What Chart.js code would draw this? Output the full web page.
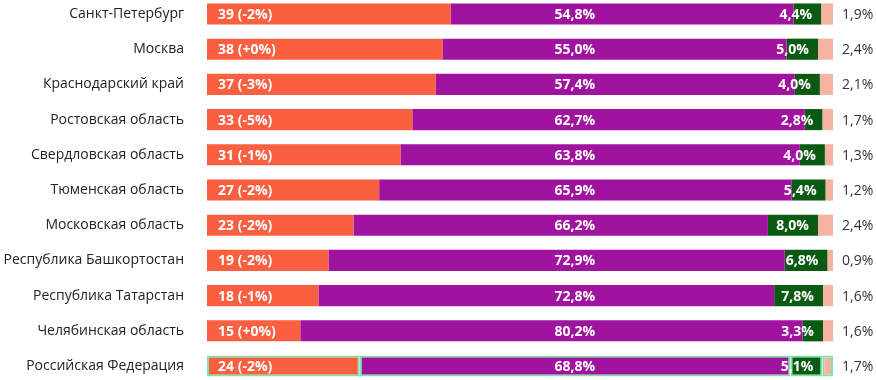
<!DOCTYPE html>
<html lang="ru">
<head>
  <meta charset="UTF-8">
  <title>Регионы</title>
  <script src="https://cdn.jsdelivr.net/npm/chart.js"></script>
  <style>
    body { margin: 0; background: #fff; }
    #wrap { width: 876px; height: 380px; }
  </style>
</head>
<body>
  <div id="wrap"><canvas id="regionChart" width="876" height="380"></canvas></div>

  <script>
    const regions = [
      'Санкт-Петербург', 'Москва', 'Краснодарский край', 'Ростовская область',
      'Свердловская область', 'Тюменская область', 'Московская область',
      'Республика Башкортостан', 'Республика Татарстан', 'Челябинская область',
      'Российская Федерация'
    ];
    const counts = [39, 38, 37, 33, 31, 27, 23, 19, 18, 15, 24];
    const countChange = ['-2%', '+0%', '-3%', '-5%', '-1%', '-2%', '-2%', '-2%', '-1%', '+0%', '-2%'];
    const orangeShare = [38.9, 37.6, 36.5, 32.8, 30.9, 27.5, 23.4, 19.4, 17.8, 14.9, 24.4];
    const purpleShare = [54.8, 55.0, 57.4, 62.7, 63.8, 65.9, 66.2, 72.9, 72.8, 80.2, 68.8];
    const greenShare = [4.4, 5.0, 4.0, 2.8, 4.0, 5.4, 8.0, 6.8, 7.8, 3.3, 5.1];
    const pinkShare = [1.9, 2.4, 2.1, 1.7, 1.3, 1.2, 2.4, 0.9, 1.6, 1.6, 1.7];

    const FONT = '"Open Sans", "Noto Sans", sans-serif';
    const TOTAL_ROW = regions.length - 1;

    function pct(v) {
      return v.toFixed(1).replace('.', ',') + '%';
    }

    // light green outline only on the country total row
    const rowBorder = ctx => ctx.dataIndex === TOTAL_ROW ? '#7fe3a6' : 'rgba(0,0,0,0)';
    const rowBorderWidth = ctx => ctx.dataIndex === TOTAL_ROW ? 2 : 0;

    function makeSet(data, color) {
      return {
        data,
        backgroundColor: color,
        borderColor: rowBorder,
        borderWidth: rowBorderWidth,
        borderSkipped: false,
        barPercentage: 0.6,
        categoryPercentage: 1.0,
        clip: false
      };
    }

    const barLabels = {
      id: 'barLabels',
      afterDatasetsDraw(chart) {
        const ctx = chart.ctx;
        const xScale = chart.scales.x;
        const orange = chart.getDatasetMeta(0).data;
        const green = chart.getDatasetMeta(2).data;
        const pink = chart.getDatasetMeta(3).data;
        const purpleRight = xScale.getPixelForValue(62);

        ctx.save();
        ctx.textBaseline = 'middle';
        regions.forEach((r, i) => {
          const y = orange[i].y + 1;
          ctx.font = 'bold 14px ' + FONT;
          ctx.fillStyle = '#ffffff';

          ctx.textAlign = 'left';
          ctx.fillText(`${counts[i]} (${countChange[i]})`, orange[i].base + 11, y);

          ctx.textAlign = 'right';
          ctx.fillText(pct(purpleShare[i]), purpleRight, y);
          ctx.fillText(pct(greenShare[i]), green[i].x - 9, y);

          ctx.font = '14px ' + FONT;
          ctx.fillStyle = '#333333';
          ctx.textAlign = 'left';
          ctx.fillText(pct(pinkShare[i]), pink[i].x + 9, y);
        });
        ctx.restore();
      }
    };

    new Chart(document.getElementById('regionChart'), {
      type: 'bar',
      data: {
        labels: regions,
        datasets: [
          makeSet(orangeShare, '#fa5f40'),
          makeSet(purpleShare, '#a0139f'),
          makeSet(greenShare, '#0b5a12'),
          makeSet(pinkShare, '#f7b3a1')
        ]
      },
      options: {
        indexAxis: 'y',
        responsive: false,
        animation: false,
        layout: { padding: { top: 14, bottom: 14, right: 43, left: 0 } },
        plugins: {
          legend: { display: false },
          tooltip: { enabled: false }
        },
        scales: {
          x: {
            stacked: true,
            min: 0,
            max: 100,
            display: false
          },
          y: {
            stacked: true,
            offset: false,
            grid: { display: false },
            border: { display: false },
            ticks: {
              padding: 15,
              color: '#222222',
              font: { family: FONT, size: 14 }
            },
            afterFit(scale) {
              scale.width = 207;
              scale.paddingTop = 0;
              scale.paddingBottom = 0;
            }
          }
        }
      },
      plugins: [barLabels]
    });
  </script>
</body>
</html>
